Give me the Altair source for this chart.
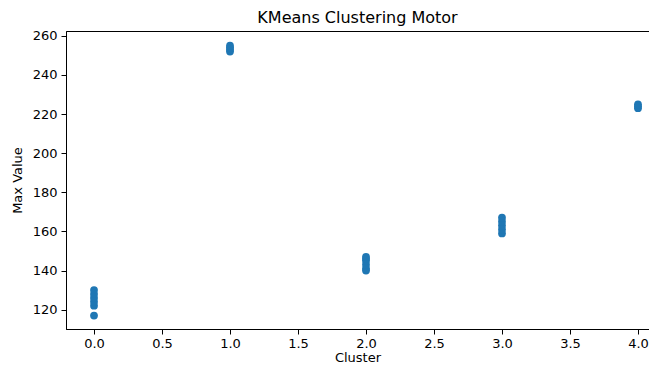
import altair as alt
import pandas as pd

cluster_ids = [0, 0, 0, 0, 0, 0,
               1, 1, 1, 1,
               2, 2, 2, 2, 2, 2,
               3, 3, 3, 3, 3,
               4, 4, 4]
max_values = [117, 122, 124, 126, 128, 130,
              252, 253, 254, 255,
              140, 141, 143, 145, 146, 147,
              159, 161, 163, 165, 167,
              223, 224, 225]
x_ticks = [0.0, 0.5, 1.0, 1.5, 2.0, 2.5, 3.0, 3.5, 4.0]
y_ticks = [120, 140, 160, 180, 200, 220, 240, 260]

df = pd.DataFrame({"Cluster": cluster_ids, "Max Value": max_values})

font = "DejaVu Sans"

chart = alt.Chart(df).mark_circle(size=60, color="#1f77b4", opacity=1).encode(
    x=alt.X("Cluster:Q",
            scale=alt.Scale(domain=[-0.206, 4.081], nice=False, zero=False),
            axis=alt.Axis(values=x_ticks, format=".1f", title="Cluster", grid=False,
                          tickSize=5, labelPadding=3, titlePadding=1,
                          labelFontSize=13, titleFontSize=13, labelFlush=False)),
    y=alt.Y("Max Value:Q",
            scale=alt.Scale(domain=[110.1, 262.5], nice=False, zero=False),
            axis=alt.Axis(values=y_ticks, title="Max Value", grid=False,
                          tickSize=5, labelPadding=4, titlePadding=8,
                          labelFontSize=13, titleFontSize=13, labelFlush=False)),
).properties(
    width=583,
    height=298,
    title=alt.TitleParams("KMeans Clustering Motor", fontSize=16, font=font,
                          fontWeight="normal", color="black", offset=4),
    autosize=alt.AutoSizeParams(type="none"),
    padding={"left": 58, "top": 23, "right": 0, "bottom": 36},
).configure_view(
    stroke="black", strokeWidth=1
).configure_axis(
    domainColor="black", tickColor="black", labelColor="black", titleColor="black",
    labelFont=font, titleFont=font, titleFontWeight="normal"
)

chart.save("out.html", embed_options={"renderer": "svg", "actions": False})
